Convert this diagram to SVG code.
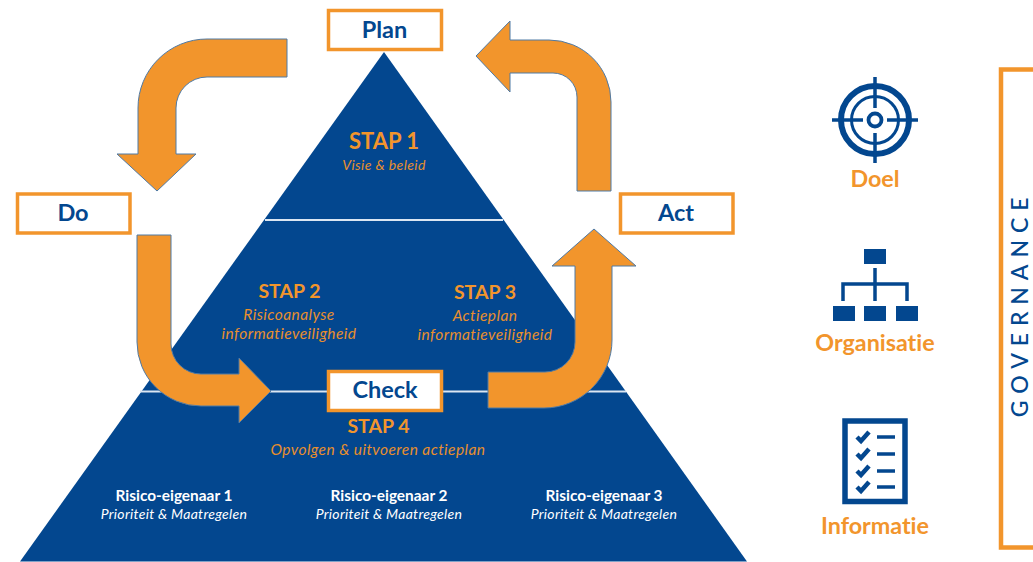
<svg xmlns="http://www.w3.org/2000/svg" width="1033" height="562" viewBox="0 0 1033 562">
<style>
text{font-family:Lato,"Noto Sans","Liberation Sans",sans-serif;text-anchor:middle;font-variant-ligatures:none}
.box{fill:#fff;stroke:#f2952c;stroke-width:3.5}
.blue{fill:#03478f}
.lbl{fill:#03478f;font-size:23.5px;font-weight:700}
.arrow{fill:#f2952c;stroke:#4f7aa5;stroke-width:1}
.stap{fill:#f2952c;font-size:19.500px;font-weight:700}
.sub{fill:#e88f2d;font-size:15.5px;font-style:italic;letter-spacing:.43px}
.own{fill:#fff;font-size:15.4px;font-weight:700}
.pri{fill:#fff;font-size:14px;font-style:italic;letter-spacing:.3px}
.cap{fill:#f2952c;font-size:23.3px;font-weight:700}
.ico{fill:none;stroke:#03478f}
</style>
<g id="pyramid">
<polygon class="blue" points="384,52 747,561.500 20,561.500"/>
<path d="M265,220H503M140,391.500H626" stroke="#dbe6f2" stroke-width="2" fill="none"/>
<text class="stap" x="384" y="149" style="font-size:22px">STAP 1</text>
<text class="sub" x="384" y="170" style="font-size:14px;letter-spacing:.4px">Visie &amp; beleid</text>
<text class="stap" x="289.500" y="298">STAP 2</text>
<text class="sub" x="289" y="320">Risicoanalyse</text>
<text class="sub" x="289" y="339">informatieveiligheid</text>
<text class="stap" x="485" y="299">STAP 3</text>
<text class="sub" x="485" y="321">Actieplan</text>
<text class="sub" x="485" y="340">informatieveiligheid</text>
<text class="stap" x="378.500" y="433">STAP 4</text>
<text class="sub" x="378" y="455">Opvolgen &amp; uitvoeren actieplan</text>
<text class="own" x="174" y="501">Risico-eigenaar 1</text>
<text class="pri" x="174" y="519">Prioriteit &amp; Maatregelen</text>
<text class="own" x="389" y="501">Risico-eigenaar 2</text>
<text class="pri" x="389" y="519">Prioriteit &amp; Maatregelen</text>
<text class="own" x="604" y="501">Risico-eigenaar 3</text>
<text class="pri" x="604" y="519">Prioriteit &amp; Maatregelen</text>
</g>
<g id="connectors">
<path class="arrow" d="M287,39H207A69,69 0 0 0 138,108V154H117L157,191L196,154H176V108A31,31 0 0 1 207,77H287Z"/>
<path class="arrow" d="M137,235H171V344A30,30 0 0 0 201,374H239V358L271,391L239,423V406H201A64,64 0 0 1 137,342Z"/>
<path class="arrow" d="M488,372H545A30,30 0 0 0 575,342V266H552L594,229L636,266H612V340A68,68 0 0 1 544,408H488Z"/>
<path class="arrow" d="M577,191H611V102A62,62 0 0 0 549,40H510V21L476,56L510,92V73H553A24,24 0 0 1 577,97Z"/>
</g>
<g id="plan"><rect class="box" x="328.500" y="10.500" width="113" height="39"/><text class="lbl" x="384.500" y="37.500">Plan</text></g>
<g id="do"><rect class="box" x="17.500" y="194" width="112.500" height="39"/><text class="lbl" x="73" y="220.500">Do</text></g>
<g id="act"><rect class="box" x="620.500" y="194" width="112.500" height="39"/><text class="lbl" x="676" y="220.500">Act</text></g>
<g id="check"><rect class="box" x="328.500" y="371.500" width="113" height="39"/><text class="lbl" x="385" y="398">Check</text></g>
<g id="doel">
<g class="ico">
<circle cx="875" cy="120" r="34" stroke-width="6"/>
<circle cx="875" cy="120" r="23.500" stroke-width="3"/>
<circle cx="875" cy="120" r="6.500" stroke-width="3.800"/>
<path d="M875,77V108M875,133V163M832,120H863M887,120H918" stroke-width="3.500"/>
</g>
<text class="cap" x="875" y="187">Doel</text>
</g>
<g id="organisatie">
<rect class="blue" x="864" y="249" width="22" height="15"/>
<rect class="blue" x="833" y="306" width="22" height="15"/>
<rect class="blue" x="864" y="306" width="22" height="15"/>
<rect class="blue" x="896" y="306" width="22" height="15"/>
<path class="ico" stroke-width="3.500" d="M875,268V301M843,301V284H907V301"/>
<text class="cap" x="875" y="351">Organisatie</text>
</g>
<g id="informatie">
<rect x="845" y="421" width="60" height="80.500" fill="#fff" stroke="#03478f" stroke-width="5.500"/>
<path class="ico" stroke-width="4.500" d="M857,437L861,441L869,432M857,454L861,458L869,449M857,471L861,475L869,466M857,487L861,491L869,482"/>
<path class="ico" stroke-width="3.500" d="M877,437H895M877,454H895M877,471H895M877,487H895"/>
<text class="cap" x="875" y="534">Informatie</text>
</g>
<g id="governance">
<path d="M1033,69.500H1001V547.500H1033" fill="none" stroke="#f2952c" stroke-width="4.500"/>
<text transform="translate(1028,304) rotate(-90)" fill="#03478f" font-size="23" font-weight="500" letter-spacing="6.900">GOVERNANCE</text>
</g>
</svg>
